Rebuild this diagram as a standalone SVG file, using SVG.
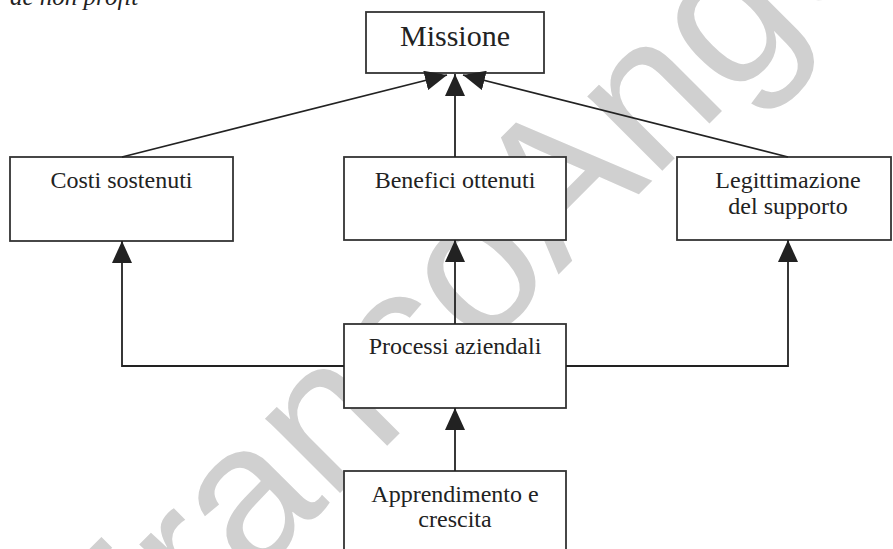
<svg xmlns="http://www.w3.org/2000/svg" width="893" height="549" viewBox="0 0 893 549">
  <style>
    .box { fill: #ffffff; stroke: #333333; stroke-width: 1.8; }
    .lbl { font-family: "Liberation Serif", "Times New Roman", serif; font-size: 24px; fill: #222222; text-anchor: middle; }
    .big { font-size: 30px; }
    .conn { fill: none; stroke: #222222; stroke-width: 1.8; }
    .mark { font-family: "Liberation Sans", Arial, sans-serif; font-size: 200px; fill: #d0d0d0; }
    .cap { font-family: "Liberation Serif", "Times New Roman", serif; font-style: italic; font-size: 25px; fill: #222222; }
  </style>
  <defs>
    <marker id="head" markerUnits="userSpaceOnUse" markerWidth="22" markerHeight="20" viewBox="0 0 22 20" refX="22" refY="10" orient="auto">
      <path d="M0,0 L22,10 L0,20 z" fill="#222222"/>
    </marker>
  </defs>

  <rect width="893" height="549" fill="#ffffff"/>

  <!-- background watermark -->
  <g id="watermark" transform="translate(118,715) rotate(-45)">
    <text class="mark" x="0" y="0">FrancoAngeli</text>
  </g>

  <!-- caption line clipped at the top edge -->
  <text class="cap" x="10" y="5">ae non profit</text>

  <!-- nodes -->
  <g id="missione">
    <rect class="box" x="366" y="12" width="178" height="61"/>
    <text class="lbl big" x="455" y="46">Missione</text>
  </g>
  <g id="costi">
    <rect class="box" x="10" y="157" width="223" height="84"/>
    <text class="lbl" x="121.5" y="188">Costi sostenuti</text>
  </g>
  <g id="benefici">
    <rect class="box" x="344" y="157" width="222" height="83"/>
    <text class="lbl" x="455" y="188">Benefici ottenuti</text>
  </g>
  <g id="legittimazione">
    <rect class="box" x="677" y="157" width="214" height="83"/>
    <text class="lbl" x="788" y="188">Legittimazione</text>
    <text class="lbl" x="788" y="214">del supporto</text>
  </g>
  <g id="processi">
    <rect class="box" x="344" y="324" width="222" height="84"/>
    <text class="lbl" x="455" y="354">Processi aziendali</text>
  </g>
  <g id="apprendimento">
    <rect class="box" x="344" y="471" width="222" height="100"/>
    <text class="lbl" x="455" y="502">Apprendimento e</text>
    <text class="lbl" x="455" y="527">crescita</text>
  </g>

  <!-- connectors -->
  <g id="connectors">
    <path class="conn" d="M122,157 L447,75" marker-end="url(#head)"/>
    <path class="conn" d="M455,157 L455,74" marker-end="url(#head)"/>
    <path class="conn" d="M788,157 L463,75" marker-end="url(#head)"/>
    <path class="conn" d="M344,366 L122,366 L122,241" marker-end="url(#head)"/>
    <path class="conn" d="M455,324 L455,240" marker-end="url(#head)"/>
    <path class="conn" d="M566,366 L788,366 L788,240" marker-end="url(#head)"/>
    <path class="conn" d="M455,471 L455,408" marker-end="url(#head)"/>
  </g>
</svg>
